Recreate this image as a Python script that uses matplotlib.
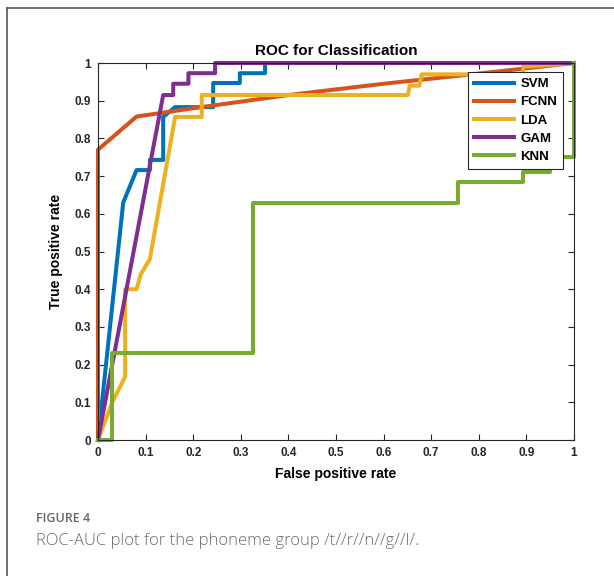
import matplotlib
matplotlib.use('Agg')
import matplotlib.pyplot as plt
from matplotlib.lines import Line2D

plt.rcParams['font.family'] = ['Liberation Sans', 'DejaVu Sans']

# ROC curves (false positive rate, true positive rate)
svm_fpr = [0, 0.053, 0.081, 0.109, 0.109, 0.137, 0.137, 0.162, 0.242, 0.242, 0.298, 0.298, 0.351, 0.351, 1]
svm_tpr = [0, 0.63, 0.716, 0.716, 0.743, 0.743, 0.857, 0.883, 0.883, 0.947, 0.947, 0.973, 0.973, 1, 1]

fcnn_fpr = [0, 0, 0.081, 0.2, 0.4, 0.6, 0.8, 1]
fcnn_tpr = [0, 0.77, 0.858, 0.88, 0.915, 0.945, 0.972, 1]

lda_fpr = [0, 0.03, 0.057, 0.057, 0.081, 0.09, 0.109, 0.162, 0.218, 0.218, 0.651, 0.655, 0.675, 0.68, 0.893, 0.893, 1]
lda_tpr = [0, 0.1, 0.168, 0.4, 0.4, 0.44, 0.48, 0.857, 0.857, 0.915, 0.915, 0.94, 0.94, 0.97, 0.97, 0.99, 1]

gam_fpr = [0, 0.137, 0.158, 0.158, 0.19, 0.19, 0.246, 0.246, 1]
gam_tpr = [0, 0.915, 0.915, 0.945, 0.945, 0.973, 0.973, 1, 1]

knn_fpr = [0, 0.029, 0.029, 0.326, 0.326, 0.756, 0.756, 0.893, 0.893, 0.95, 0.95, 1, 1]
knn_tpr = [0, 0, 0.23, 0.23, 0.628, 0.628, 0.685, 0.685, 0.712, 0.712, 0.752, 0.752, 1]

tick_vals = [0, 0.1, 0.2, 0.3, 0.4, 0.5, 0.6, 0.7, 0.8, 0.9, 1]
tick_labels = ['0', '0.1', '0.2', '0.3', '0.4', '0.5', '0.6', '0.7', '0.8', '0.9', '1']

fig = plt.figure(figsize=(6.14, 5.76), dpi=100)
ax = fig.add_axes([0.1596, 0.2361, 0.7752, 0.6545])

lw = 2.9
ax.plot(svm_fpr, svm_tpr, color='#0072BD', lw=lw, label='SVM', clip_on=False)
ax.plot(fcnn_fpr, fcnn_tpr, color='#D95319', lw=lw, label='FCNN', clip_on=False)
ax.plot(lda_fpr, lda_tpr, color='#EDB120', lw=lw, label='LDA', clip_on=False)
ax.plot(gam_fpr, gam_tpr, color='#7E2F8E', lw=lw, label='GAM', clip_on=False)
ax.plot(knn_fpr, knn_tpr, color='#77AC30', lw=lw, label='KNN', clip_on=False)

ax.set_xlim(0, 1)
ax.set_ylim(0, 1)
ax.set_xticks(tick_vals)
ax.set_xticklabels(tick_labels, fontweight='bold', fontsize=8.5)
ax.set_yticks(tick_vals)
ax.set_yticklabels(tick_labels, fontweight='bold', fontsize=8.5)
ax.tick_params(direction='in', top=True, right=True, length=4, width=0.8, colors='#262626', pad=5)
for s in ax.spines.values():
    s.set_color('#262626')
    s.set_linewidth(0.8)

ax.set_xlabel('False positive rate', fontweight='bold', fontsize=10, labelpad=6)
ax.set_ylabel('True positive rate', fontweight='bold', fontsize=10, labelpad=8)
ax.set_title('ROC for Classification', fontweight='bold', fontsize=11, pad=6)

leg = ax.legend(loc='upper right', bbox_to_anchor=(0.977, 0.976), borderaxespad=0,
                prop={'weight': 'bold', 'size': 9.5}, handlelength=3.0, handletextpad=0.5,
                labelspacing=0.45, borderpad=0.45, fancybox=False, framealpha=1)
leg.get_frame().set_edgecolor('#262626')
leg.get_frame().set_linewidth(0.8)

# page frame (top and left edges)
fig.add_artist(Line2D([7 / 614, 1], [1 - 8 / 576, 1 - 8 / 576], color='#555555', lw=1.2, transform=fig.transFigure))
fig.add_artist(Line2D([7 / 614, 7 / 614], [0, 1 - 8 / 576], color='#555555', lw=1.2, transform=fig.transFigure))

fig.text(36 / 614, 1 - 518 / 576, 'FIGURE 4', fontsize=9, color='#666666', family=['Open Sans', 'DejaVu Sans'],
         fontweight='semibold', va='center')
fig.text(36 / 614, 1 - 541 / 576, 'ROC-AUC plot for the phoneme group /t//r//n//g//l/.', fontsize=12,
         color='#6b6b6b', family=['Open Sans', 'DejaVu Sans'], fontweight='light', va='center')

fig.savefig('out.png', dpi=100)
